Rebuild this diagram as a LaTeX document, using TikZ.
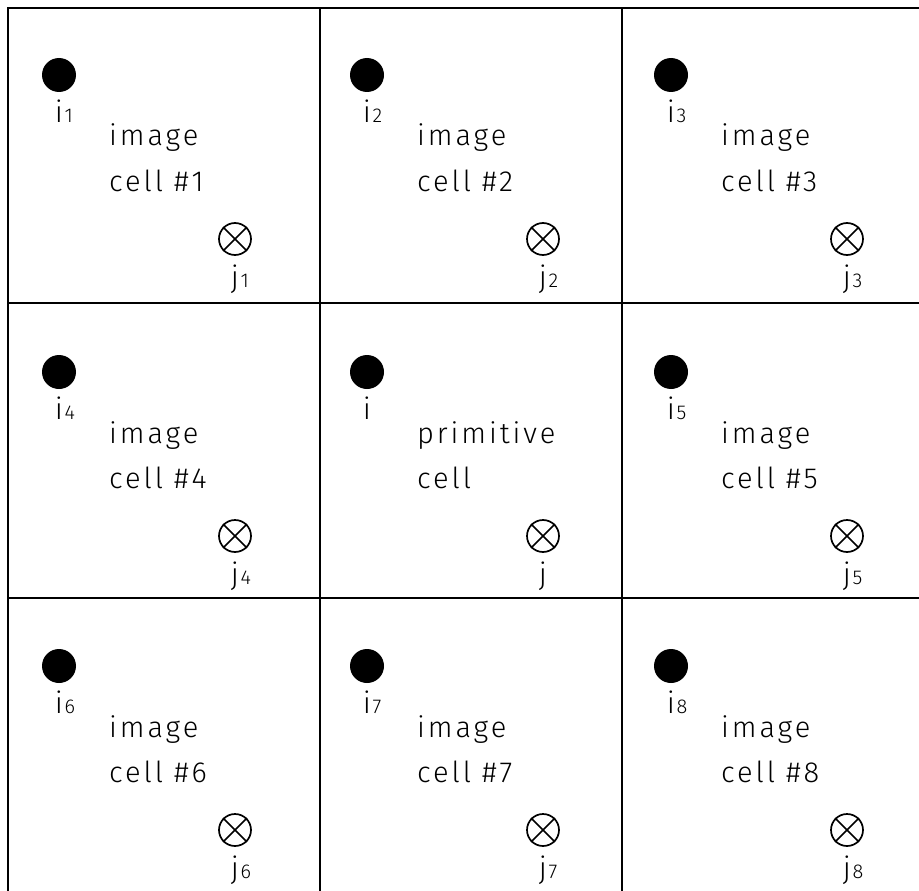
\documentclass[tikz,border=0pt]{standalone}
\usepackage{fontspec}
\setmainfont{Fira Sans Light}
\newfontfamily\bodyfont{Fira Sans Light}[LetterSpace=10]
\tikzset{
  gridline/.style={line width=2.4pt, black, line cap=rect},
  atomdot/.style={circle, fill=black, minimum size=34pt, inner sep=0pt},
  otimesmark/.style={circle, draw=black, line width=1.7pt, minimum size=32pt, inner sep=0pt},
  crossline/.style={line width=1.6pt, black},
  celltext/.style={anchor=base west, inner sep=0pt, font=\bodyfont\fontsize{29}{33}\selectfont},
  atomlabel/.style={anchor=base, inner sep=0pt, font=\fontsize{30}{34}\selectfont},
}
\newcommand{\subdig}[1]{\rlap{\kern1.5pt\fontsize{20}{21}\selectfont #1}}
\begin{document}
\begin{tikzpicture}[x=1pt,y=-1pt]
  \useasboundingbox (0,0) rectangle (919,891);
  \fill[white] (0,0) rectangle (919,891);
  \clip (0,0) rectangle (919,891);
  % grid
  \draw[gridline] (8,8) -- (940,8);
  \draw[gridline] (8,303) -- (940,303);
  \draw[gridline] (8,598) -- (940,598);
  \draw[gridline] (8,8) -- (8,910);
  \draw[gridline] (320,8) -- (320,910);
  \draw[gridline] (622,8) -- (622,910);
  % cells
  \foreach \x/\y/\n/\la/\lb/\s in {
      59/75/1/image/cell \#1/1,
      367/75/2/image/cell \#2/2,
      671/75/3/image/cell \#3/3,
      59/372/4/image/cell \#4/4,
      367/372/p/primitive/cell/{},
      671/372/5/image/cell \#5/5,
      59/666/6/image/cell \#6/6,
      367/666/7/image/cell \#7/7,
      671/666/8/image/cell \#8/8} {
    \node[atomdot] (d\n) at (\x,\y) {};
    \node[atomlabel] (i\n) at (\x,\y+47) {i\subdig{\s}};
    \node[celltext] (ta\n) at (\x+50,\y+71) {\la};
    \node[celltext] (tb\n) at (\x+50,\y+116) {\lb};
    \node[otimesmark] (o\n) at (\x+176,\y+164) {};
    \draw[crossline] (o\n.north east) -- (o\n.south west);
    \draw[crossline] (o\n.north west) -- (o\n.south east);
    \node[atomlabel] (j\n) at (\x+176,\y+212) {j\subdig{\s}};
  }
\end{tikzpicture}
\end{document}
